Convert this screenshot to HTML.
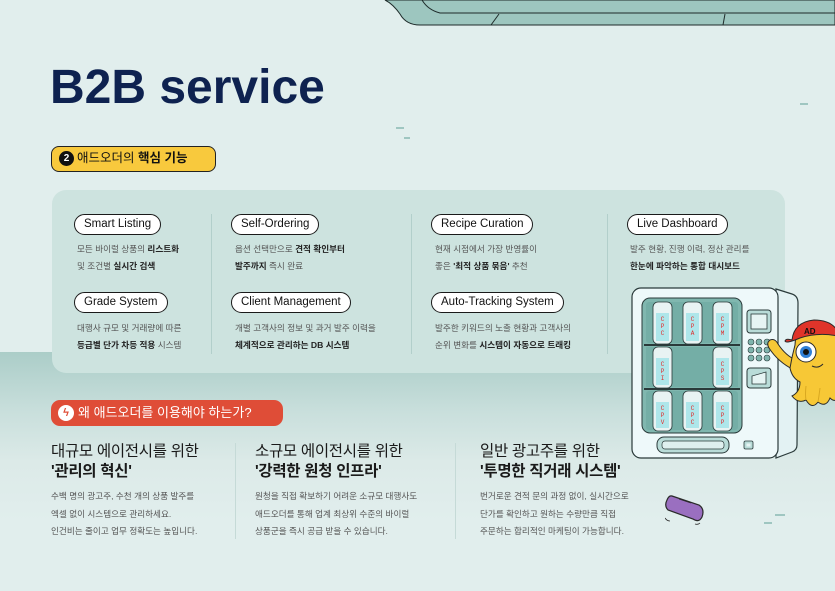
<!DOCTYPE html>
<html><head><meta charset="utf-8"><style>
*{margin:0;padding:0;box-sizing:border-box}
body{width:835px;height:591px;overflow:hidden;position:relative;font-family:"Liberation Sans","Noto Sans CJK KR",sans-serif;background:#e1eeed}
.abs{position:absolute}
.band{left:0;top:352px;width:835px;height:239px;background:linear-gradient(#abcdc8 0px,#c9dfdc 60px,#dceae8 110px,#e1eeed 170px)}
.card{left:52px;top:190px;width:733px;height:183px;background:#cde3df;border-radius:14px}
.pill{position:absolute;height:21px;border:1.5px solid #1a1a1a;border-radius:11px;background:#fff;font-size:11.5px;line-height:18px;padding:0 9px;color:#111;font-weight:500;white-space:nowrap}
.desc{position:absolute;font-size:8.6px;line-height:17px;color:#555;white-space:nowrap}
.desc b{color:#222}
.vl{position:absolute;width:1px;background:#b2cfcb}
.h{position:absolute;font-size:15.5px;line-height:20px;color:#1a1a1a;white-space:nowrap;letter-spacing:-0.3px}
.h b{font-weight:700}
.bd{position:absolute;font-size:8.6px;line-height:17.5px;color:#555;white-space:nowrap}
.dash{position:absolute;height:2px;background:#9fc6c1}
</style></head><body>
<div class="abs band"></div>
<svg class="abs" style="left:0;top:0" width="835" height="30" viewBox="0 0 835 30">
<path d="M385 0 Q393 4 400 14 Q406 25 420 25 L835 25 L835 0 Z" fill="#9dc6bf" stroke="#1e2b2a" stroke-width="1"/>
<path d="M422 0 Q428 10 440 13 L835 13" fill="none" stroke="#1e2b2a" stroke-width="1"/>
<path d="M499 14 L491 25 M725 14 L723 25" stroke="#1e2b2a" stroke-width="1"/>
</svg>
<div class="dash" style="left:396px;top:127px;width:8px"></div>
<div class="dash" style="left:404px;top:137px;width:6px"></div>
<div class="dash" style="left:800px;top:103px;width:8px"></div>
<div class="dash" style="left:756px;top:244px;width:14px"></div>
<div class="dash" style="left:775px;top:514px;width:10px"></div>
<div class="dash" style="left:764px;top:522px;width:8px"></div>
<div class="abs" style="left:50px;top:60px;font-size:48px;font-weight:700;color:#0e2250;letter-spacing:0px;line-height:56px">B2B service</div>
<div class="abs" style="left:51px;top:146px;width:165px;height:26px;background:#f8c93d;border:1.2px solid #222;border-radius:8px;font-size:12.5px;line-height:23px;color:#111;padding-left:25px;white-space:nowrap">애드오더의 <b>핵심 기능</b></div>
<div class="abs" style="left:59px;top:151px;width:15px;height:15px;border-radius:50%;background:#111;color:#fff;font-size:10px;font-weight:700;text-align:center;line-height:15px">2</div>
<div class="abs card"></div>
<div class="vl" style="left:211px;top:214px;height:140px"></div>
<div class="vl" style="left:411px;top:214px;height:140px"></div>
<div class="vl" style="left:607px;top:214px;height:140px"></div>
<div class="pill" style="left:74px;top:214px">Smart Listing</div>
<div class="desc" style="left:77px;top:241px">모든 바이럴 상품의 <b>리스트화</b><br>및 조건별 <b>실시간 검색</b></div>
<div class="pill" style="left:74px;top:292px">Grade System</div>
<div class="desc" style="left:77px;top:320px">대행사 규모 및 거래량에 따른<br><b>등급별 단가 차등 적용</b> 시스템</div>
<div class="pill" style="left:231px;top:214px">Self-Ordering</div>
<div class="desc" style="left:235px;top:241px">옵션 선택만으로 <b>견적 확인부터</b><br><b>발주까지</b> 즉시 완료</div>
<div class="pill" style="left:231px;top:292px">Client Management</div>
<div class="desc" style="left:235px;top:320px">개별 고객사의 정보 및 과거 발주 이력을<br><b>체계적으로 관리하는 DB 시스템</b></div>
<div class="pill" style="left:431px;top:214px">Recipe Curation</div>
<div class="desc" style="left:435px;top:241px">현재 시점에서 가장 반영률이<br>좋은 <b>'최적 상품 묶음'</b> 추천</div>
<div class="pill" style="left:431px;top:292px">Auto-Tracking System</div>
<div class="desc" style="left:435px;top:320px">발주한 키워드의 노출 현황과 고객사의<br>순위 변화를 <b>시스템이 자동으로 트래킹</b></div>
<div class="pill" style="left:627px;top:214px">Live Dashboard</div>
<div class="desc" style="left:630px;top:241px">발주 현황, 진행 이력, 정산 관리를<br><b>한눈에 파악하는 통합 대시보드</b></div>

<div class="abs" style="left:51px;top:400px;width:232px;height:26px;background:#df4d37;border-radius:9px;color:#fff;font-size:13px;line-height:26px;padding-left:27px;white-space:nowrap">왜 애드오더를 이용해야 하는가?</div>
<div class="abs" style="left:58px;top:405px;width:16px;height:16px;border-radius:50%;background:#fff;color:#df4d37;font-size:11px;text-align:center;line-height:16px;font-weight:700">ϟ</div>
<div class="vl" style="left:235px;top:443px;height:96px;background:#c5dad7"></div>
<div class="vl" style="left:455px;top:443px;height:96px;background:#c5dad7"></div>
<div class="h" style="left:51px;top:442px">대규모 에이전시를 위한<br><b>'관리의 혁신'</b></div>
<div class="bd" style="left:51px;top:488px">수백 명의 광고주, 수천 개의 상품 발주를<br>엑셀 없이 시스템으로 관리하세요.<br>인건비는 줄이고 업무 정확도는 높입니다.</div>
<div class="h" style="left:255px;top:442px">소규모 에이전시를 위한<br><b>'강력한 원청 인프라'</b></div>
<div class="bd" style="left:255px;top:488px">원청을 직접 확보하기 어려운 소규모 대행사도<br>애드오더를 통해 업계 최상위 수준의 바이럴<br>상품군을 즉시 공급 받을 수 있습니다.</div>
<div class="h" style="left:480px;top:442px">일반 광고주를 위한<br><b>'투명한 직거래 시스템'</b></div>
<div class="bd" style="left:480px;top:488px">번거로운 견적 문의 과정 없이, 실시간으로<br>단가를 확인하고 원하는 수량만큼 직접<br>주문하는 합리적인 마케팅이 가능합니다.</div>

<svg class="abs" style="left:620px;top:280px" width="215" height="185" viewBox="620 280 215 185">
<path d="M776 289 L792 294 Q798 296 798 303 L797 445 Q797 450 792 452 L776 458 Z" fill="#e3f2f3" stroke="#2a3a3a" stroke-width="1.2"/>
<rect x="632" y="288" width="146" height="170" rx="9" fill="#eef9fa" stroke="#2a3a3a" stroke-width="1.2"/>
<rect x="642" y="298" width="100" height="135" rx="8" fill="#80b7af" stroke="#2a3a3a" stroke-width="1"/>
<rect x="646" y="302" width="92" height="41" rx="3" fill="#74aea6"/>
<rect x="646" y="347" width="92" height="40" fill="#74aea6"/>
<rect x="646" y="391" width="92" height="39" rx="3" fill="#74aea6"/>
<line x1="644" y1="345" x2="740" y2="345" stroke="#2a3a3a" stroke-width="2"/>
<line x1="644" y1="389" x2="740" y2="389" stroke="#2a3a3a" stroke-width="2"/>
<g stroke="#2a3a3a" stroke-width="0.8">
<g fill="#e8f3f3">
<rect x="653" y="302" width="19" height="42" rx="5"/><rect x="683" y="302" width="19" height="42" rx="5"/><rect x="713" y="302" width="19" height="42" rx="5"/>
<rect x="653" y="347" width="19" height="41" rx="5"/><rect x="713" y="347" width="19" height="41" rx="5"/>
<rect x="653" y="391" width="19" height="40" rx="5"/><rect x="683" y="391" width="19" height="40" rx="5"/><rect x="713" y="391" width="19" height="40" rx="5"/>
</g>
<g fill="#aee6ea" stroke="none">
<rect x="656" y="313" width="13" height="28"/><rect x="686" y="313" width="13" height="28"/><rect x="716" y="313" width="13" height="28"/>
<rect x="656" y="358" width="13" height="27"/><rect x="716" y="358" width="13" height="27"/>
<rect x="656" y="402" width="13" height="26"/><rect x="686" y="402" width="13" height="26"/><rect x="716" y="402" width="13" height="26"/>
</g>
</g>
<g font-family="Liberation Mono,monospace" font-size="6" fill="#e02a2a" text-anchor="middle">
<text x="662.5" y="321">C</text><text x="662.5" y="328">P</text><text x="662.5" y="335">C</text>
<text x="692.5" y="321">C</text><text x="692.5" y="328">P</text><text x="692.5" y="335">A</text>
<text x="722.5" y="321">C</text><text x="722.5" y="328">P</text><text x="722.5" y="335">M</text>
<text x="662.5" y="366">C</text><text x="662.5" y="373">P</text><text x="662.5" y="380">I</text>
<text x="722.5" y="366">C</text><text x="722.5" y="373">P</text><text x="722.5" y="380">S</text>
<text x="662.5" y="410">C</text><text x="662.5" y="417">P</text><text x="662.5" y="424">V</text>
<text x="692.5" y="410">C</text><text x="692.5" y="417">P</text><text x="692.5" y="424">C</text>
<text x="722.5" y="410">C</text><text x="722.5" y="417">P</text><text x="722.5" y="424">P</text>
</g>
<rect x="747" y="310" width="24" height="23" rx="3" fill="#b9dcd8" stroke="#2a3a3a" stroke-width="1"/>
<rect x="751" y="314" width="16" height="15" fill="#e6f4f3" stroke="#2a3a3a" stroke-width="0.8"/>
<g fill="#7fb5ae" stroke="#2a3a3a" stroke-width="0.6">
<circle cx="751" cy="342" r="3"/><circle cx="759" cy="342" r="3"/><circle cx="767" cy="342" r="3"/>
<circle cx="751" cy="350" r="3"/><circle cx="759" cy="350" r="3"/><circle cx="767" cy="350" r="3"/>
<circle cx="751" cy="358" r="3"/><circle cx="759" cy="358" r="3"/><circle cx="767" cy="358" r="3"/>
</g>
<rect x="747" y="368" width="24" height="20" rx="3" fill="#b9dcd8" stroke="#2a3a3a" stroke-width="1"/>
<path d="M752 384 L752 376 L766 372 L766 384 Z" fill="#e6f4f3" stroke="#2a3a3a" stroke-width="0.8"/>
<rect x="657" y="437" width="72" height="16" rx="7" fill="#b9dcd8" stroke="#2a3a3a" stroke-width="1"/>
<rect x="662" y="441" width="62" height="8" rx="3" fill="#dff0ef" stroke="#2a3a3a" stroke-width="0.7"/>
<rect x="744" y="441" width="9" height="8" rx="1.5" fill="#b9dcd8" stroke="#2a3a3a" stroke-width="0.8"/>
<rect x="746.5" y="443.5" width="4" height="3" fill="#e6f4f3"/>
</svg>
<svg class="abs" style="left:760px;top:318px" width="75" height="100" viewBox="760 318 75 100">
<!-- arm -->
<path d="M796 360 Q786 356 778 344 Q775 338 770 340 Q766 343 769 348 Q778 362 794 370 Z" fill="#f7c836" stroke="#2a2a2a" stroke-width="1"/>
<!-- tentacles + head -->
<path d="M795 345 Q795 328 815 326 Q835 326 840 340 L840 395 Q836 404 830 398 Q826 408 818 402 Q812 410 806 400 Q798 404 792 396 Q800 392 800 382 Q792 378 790 368 Q792 356 795 345 Z" fill="#f7c836" stroke="#2a2a2a" stroke-width="1"/>
<path d="M806 386 Q805 395 806 400 M820 388 Q819 396 818 402" stroke="#d9a820" stroke-width="1" fill="none"/>
<!-- cap -->
<path d="M792 340 Q794 322 814 320 Q832 320 838 332 L838 336 Q818 332 800 338 Q786 344 785 341 Q786 338 792 340 Z" fill="#e0342a" stroke="#2a2a2a" stroke-width="1"/>
<text x="804" y="334" font-size="8" font-weight="700" font-family="Liberation Sans,sans-serif" fill="#111">AD</text>
<circle cx="806" cy="352" r="10" fill="#fff" stroke="#2a2a2a" stroke-width="1"/>
<circle cx="806" cy="352" r="6" fill="#2f7fd6"/>
<circle cx="806" cy="352" r="3" fill="#111"/>
<path d="M812 366 Q818 369 823 364" fill="none" stroke="#2a2a2a" stroke-width="1"/>
</svg>
<svg class="abs" style="left:665px;top:488px" width="50" height="40" viewBox="0 0 50 40">
<path d="M7 8 L34 17 Q40 21 37 29 Q34 35 28 31 L3 22 Q-1 18 2 12 Q4 7 7 8 Z" fill="#9a6fc0" stroke="#2a2a2a" stroke-width="1.2"/>
<path d="M14 11 L26 15" stroke="#2a2a2a" stroke-width="0.8"/>
<path d="M0 30 Q2 33 5 33 M30 36 Q33 37 35 35" stroke="#2a2a2a" stroke-width="0.8" fill="none"/>
</svg>
</body></html>
